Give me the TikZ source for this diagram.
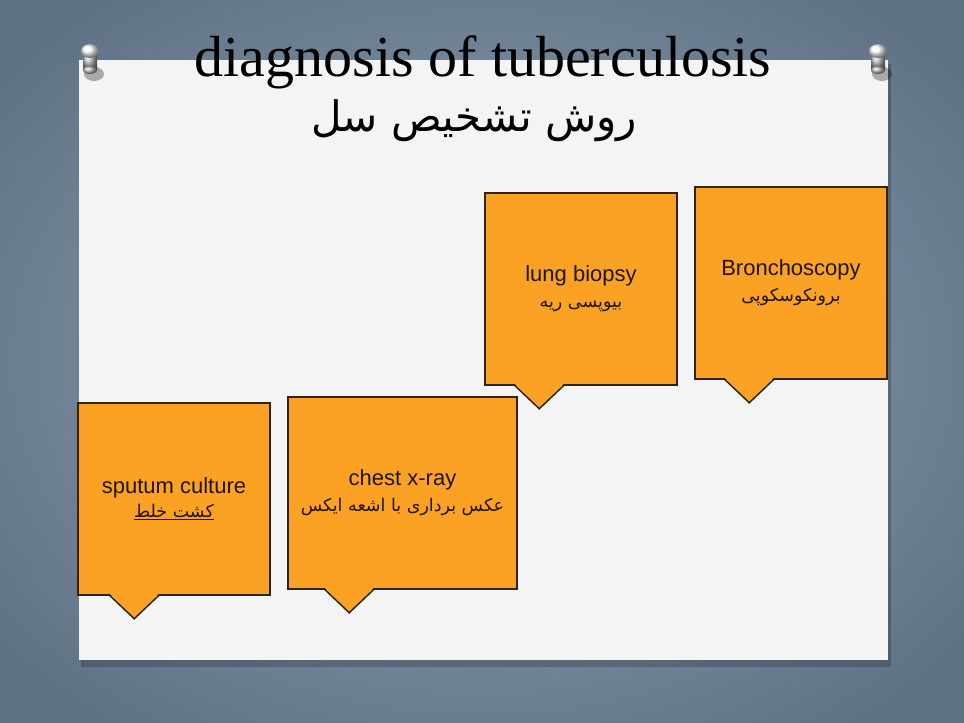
\documentclass[tikz,border=0pt]{standalone}
\usepackage{fontspec}
\setmainfont{Liberation Sans}
\newfontfamily\titlefont{Liberation Serif}
\newfontfamily\arabicfont[Script=Arabic]{DejaVu Sans}
\TeXXeTstate=1
\definecolor{bgmid}{HTML}{93A5B6}
\definecolor{bgedge}{HTML}{5E7184}
\definecolor{paper}{HTML}{F4F4F4}
\definecolor{boxfill}{HTML}{FBA124}
\definecolor{boxline}{HTML}{2E2414}
\definecolor{txt}{HTML}{1E1608}
\begin{document}
\begin{tikzpicture}[x=1pt,y=-1pt,
  callout/.style={fill=boxfill,draw=boxline,line width=1.5pt,minimum height=192pt,
    align=center,text=txt,font=\fontsize{22}{30}\selectfont,inner sep=0pt},
  tipfill/.style={fill=boxfill},
  tipline/.style={draw=boxline,line width=1.5pt,line join=miter}]
\useasboundingbox (0,0) rectangle (964,723);
% background
\shade[inner color=bgmid,outer color=bgedge] (-150,-110) rectangle (1114,833);
% paper shadow and paper
\fill[black,opacity=0.2] (81,64) rectangle (891,667);
\fill[paper] (79,60) rectangle (888,660);
% pins
\foreach \px in {90,878}{
  \fill[black,opacity=0.3] (\px+4,74) ellipse (10 and 7);
  \shade[ball color=gray!50] (\px-7,52) rectangle (\px+7,70);
  \shade[ball color=gray!50] (\px,70) ellipse (7 and 4);
  \shade[ball color=white] (\px,51) ellipse (9 and 7);
}
% titles
\node[font=\titlefont\fontsize{58}{60}\selectfont,text=black] (title) at (483,62) {diagnosis of tuberculosis};
\node[font=\arabicfont\fontsize{42}{46}\selectfont,text=black] (subtitle) at (474,121) {\beginR روش تشخیص سل\endR};
% boxes
\node[callout,minimum width=192pt] (lb) at (581,289)
  {lung biopsy\\[-4pt]{\arabicfont\fontsize{17.5}{22}\selectfont\beginR بیوپسی ریه\endR}};
\node[callout,minimum width=192pt] (br) at (791,283)
  {Bronchoscopy\\[-4pt]{\arabicfont\fontsize{17.5}{22}\selectfont\beginR برونکوسکوپی\endR}};
\node[callout,minimum width=192pt] (sc) at (174,499)
  {sputum culture\\[-6pt]\underline{\arabicfont\fontsize{17.5}{22}\selectfont\beginR کشت خلط\endR}};
\node[callout,minimum width=229pt] (cx) at (402.5,493)
  {chest x-ray\\[-4pt]{\arabicfont\fontsize{17.5}{22}\selectfont\beginR عکس برداری با اشعه ایکس\endR}};
% pointers
\foreach \n/\a/\m/\b in {lb/30/55/80, br/30/55/80, sc/32/57/82, cx/37/62/87}{
  \fill[tipfill] ([xshift=\a pt,yshift=2.5pt]\n.south west) -- ([xshift=\m pt,yshift=-23pt]\n.south west)
     -- ([xshift=\b pt,yshift=2.5pt]\n.south west) -- cycle;
  \draw[tipline] ([xshift=\a pt,yshift=0.75pt]\n.south west) -- ([xshift=\m pt,yshift=-23pt]\n.south west)
     -- ([xshift=\b pt,yshift=0.75pt]\n.south west);
}
\end{tikzpicture}
\end{document}
